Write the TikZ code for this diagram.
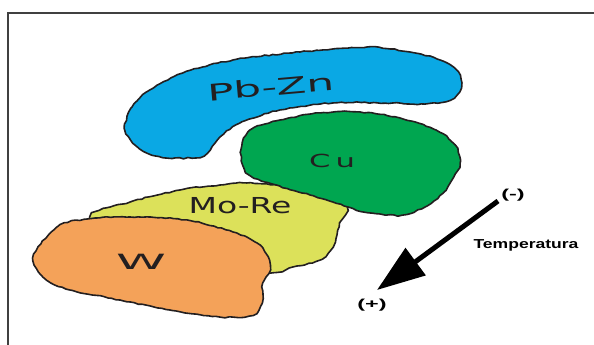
\documentclass[tikz,border=0pt]{standalone}
\usepackage{fontspec}
\setmainfont{DejaVu Sans}
\newfontfamily\labfont{Liberation Sans}
\usetikzlibrary{arrows.meta,decorations.pathmorphing}
\definecolor{cblue}{HTML}{0AA8E4}
\definecolor{cgreen}{HTML}{00A650}
\definecolor{cyellow}{HTML}{DCE15A}
\definecolor{corange}{HTML}{F4A259}
\definecolor{ink}{HTML}{231F20}
\tikzset{
  blob/.style={draw=ink, line width=1.6pt, line join=round,
    decorate, decoration={random steps, segment length=4pt, amplitude=0.6pt}},
  hand/.style={text=ink, inner sep=0pt},
  small/.style={text=black, font=\labfont\bfseries\fontsize{13}{13}\selectfont, inner sep=0pt}
}
\begin{document}
\begin{tikzpicture}[x=1pt,y=-1pt]
\pgfmathsetseed{7}
\useasboundingbox (0,0) rectangle (594,345);
\clip (0,0) rectangle (594,345);
\fill[white] (0,0) rectangle (594,345);
\draw[line width=1.3pt, draw=black!75] (8,360) -- (8,13) -- (610,13);
% Pb-Zn
\draw[blob, fill=cblue] plot[smooth cycle, tension=0.55] coordinates {
 (125,128) (132,107) (150,90) (183,73) (233,60) (300,52) (367,47) (410,52)
 (440,60) (458,72) (461,88) (450,100) (425,104) (393,103) (333,103) (280,110)
 (240,123) (220,137) (210,150) (200,157) (167,158) (147,153) (133,143)};
% Mo-Re
\draw[blob, fill=cyellow] plot[smooth cycle, tension=0.55] coordinates {
 (90,217) (130,202) (180,190) (220,185) (247,183) (303,188) (330,193) (347,207)
 (340,223) (333,247) (320,260) (293,267) (270,273) (200,270) (120,250)};
% Cu
\draw[blob, fill=cgreen] plot[smooth cycle, tension=0.55] coordinates {
 (241,150) (250,130) (280,120) (320,113) (360,112) (400,118) (436,130) (455,145)
 (460,163) (452,180) (443,193) (425,207) (402,215) (380,214) (364,212) (348,207)
 (310,195) (265,182) (246,172)};
% W
\draw[blob, fill=corange] plot[smooth cycle, tension=0.55] coordinates {
 (33,258) (57,227) (87,219) (130,217) (187,220) (233,232) (257,243) (268,257)
 (270,270) (263,283) (262,303) (253,315) (220,317) (170,310) (120,300) (70,290)
 (47,280)};
% labels
\node[hand, rotate=5, font=\fontsize{23}{23}\selectfont] (pbzn) at (271,87) {\scalebox{1.9}[1]{Pb-Zn}};
\node[hand, font=\fontsize{18}{18}\selectfont] (cu) at (332,161) {\scalebox{1.7}[1]{C\,u}};
\node[hand, font=\fontsize{22}{22}\selectfont] (more) at (240,206) {\scalebox{1.5}[1]{Mo-Re}};
\node[hand, font=\fontsize{21}{21}\selectfont] (w) at (141,262) {\scalebox{2.4}[1]{W}};
% temperature arrow
\coordinate (tail) at (498,201);
\coordinate (tip) at (377,290);
\draw[line width=5pt, -{Triangle[width=33pt,length=48pt]}] (tail) -- (tip);
\node[small] (minus) at (513,195) {\scalebox{1.8}[1]{(-)}};
\node[small] (temp) at (526,245) {\scalebox{1.35}[1]{Temperatura}};
\node[small] (plus) at (372,305) {\scalebox{1.8}[1]{(+)}};
\end{tikzpicture}
\end{document}
